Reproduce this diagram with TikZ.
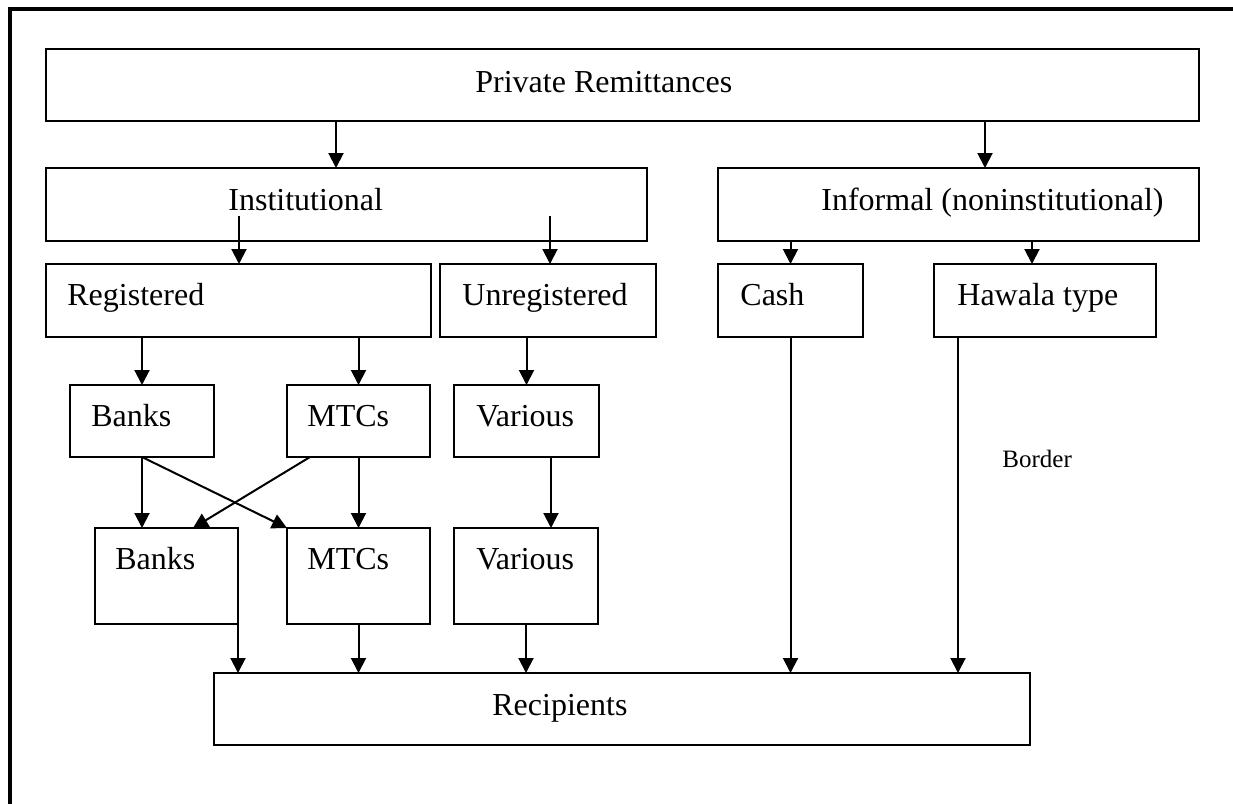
\documentclass[tikz,border=0pt]{standalone}
\usepackage{fontspec}
\setmainfont{Liberation Serif}
\usetikzlibrary{arrows.meta,fit}
\begin{document}
\begin{tikzpicture}[x=0.5pt,y=-0.5pt,
  box/.style={draw, line width=1pt, rectangle, inner sep=0pt, outer sep=0pt},
  lbl/.style={anchor=base west, inner sep=0pt, font=\fontsize{16}{19}\selectfont},
  note/.style={anchor=base west, inner sep=0pt, font=\fontsize{12.5}{15}\selectfont},
  arr/.style={line width=1pt, -{Triangle[length=7.5pt,width=7.5pt]}},
  frameline/.style={line width=2pt, line join=miter}]
\useasboundingbox (0,0) rectangle (1233,804);

% page frame (top and left rules)
\draw[frameline] (10,804) -- (10,9) -- (1233,9);

% boxes
\node[box, fit={(46,49) (1199,121)}]   (priv)   {};
\node[box, fit={(46,168) (647,241)}]   (inst)   {};
\node[box, fit={(718,168) (1199,241)}] (inf)    {};
\node[box, fit={(46,264) (431,337)}]   (reg)    {};
\node[box, fit={(440,264) (656,337)}]  (unreg)  {};
\node[box, fit={(718,264) (863,337)}]  (cash)   {};
\node[box, fit={(934,264) (1156,337)}] (hawala) {};
\node[box, fit={(70,385) (214,457)}]   (ubanks) {};
\node[box, fit={(287,385) (430,457)}]  (umtcs)  {};
\node[box, fit={(454,385) (599,457)}]  (uvar)   {};
\node[box, fit={(95,528) (238,624)}]   (lbanks) {};
\node[box, fit={(287,528) (430,624)}]  (lmtcs)  {};
\node[box, fit={(454,528) (598,624)}]  (lvar)   {};
\node[box, fit={(214,673) (1030,745)}] (recip)  {};

% box texts
\node[lbl] (t-priv)   at (475,92)  {Private Remittances};
\node[lbl] (t-inst)   at (228,210) {Institutional};
\node[lbl] (t-inf)    at (821,210) {Informal (noninstitutional)};
\node[lbl] (t-reg)    at (67,305)  {Registered};
\node[lbl] (t-unreg)  at (462,305) {Unregistered};
\node[lbl] (t-cash)   at (740,305) {Cash};
\node[lbl] (t-hawala) at (957,305) {Hawala type};
\node[lbl] (t-ubanks) at (91,426)  {Banks};
\node[lbl] (t-umtcs)  at (307,426) {MTCs};
\node[lbl] (t-uvar)   at (476,426) {Various};
\node[lbl] (t-lbanks) at (115,569) {Banks};
\node[lbl] (t-lmtcs)  at (307,569) {MTCs};
\node[lbl] (t-lvar)   at (476,569) {Various};
\node[lbl] (t-recip)  at (492,715) {Recipients};
\node[note] (t-border) at (1002,467) {Border};

% arrow starts inside the Institutional box
\coordinate (inst-a) at (239,216);
\coordinate (inst-b) at (550,216);

% connectors
\draw[arr] (priv.south -| 336,0) -- (inst.north -| 336,0);
\draw[arr] (priv.south -| 985,0) -- (inf.north -| 985,0);
\draw[arr] (inst-a) -- (reg.north -| inst-a);
\draw[arr] (inst-b) -- (unreg.north -| inst-b);
\draw[arr] (inf.south -| cash.north) -- (cash.north);
\draw[arr] (inf.south -| 1032,0) -- (hawala.north -| 1032,0);
\draw[arr] (reg.south -| ubanks.north) -- (ubanks.north);
\draw[arr] (reg.south -| umtcs.north) -- (umtcs.north);
\draw[arr] (unreg.south -| uvar.north) -- (uvar.north);
\draw[arr] (ubanks.south) -- (lbanks.north -| ubanks.south);
\draw[arr] (ubanks.south) -- (lmtcs.north west);
\draw[arr] (umtcs.south -| 310,0) -- (lbanks.north -| 193,0);
\draw[arr] (umtcs.south) -- (lmtcs.north);
\draw[arr] (uvar.south -| 551,0) -- (lvar.north -| 551,0);
\draw[arr] (lbanks.south east) -- (recip.north -| lbanks.south east);
\draw[arr] (lmtcs.south) -- (recip.north -| lmtcs.south);
\draw[arr] (lvar.south) -- (recip.north -| lvar.south);
\draw[arr] (cash.south) -- (recip.north -| cash.south);
\draw[arr] (hawala.south -| 958,0) -- (recip.north -| 958,0);
\end{tikzpicture}
\end{document}
